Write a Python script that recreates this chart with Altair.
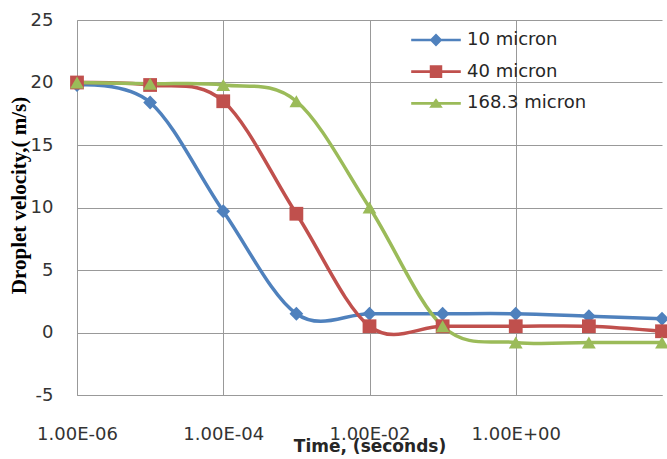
import altair as alt
import pandas as pd

# ---- data ----
times = [1e-6, 1e-5, 1e-4, 1e-3, 1e-2, 1e-1, 1e0, 1e1, 1e2]
series_names = ["10 micron", "40 micron", "168.3 micron"]
v_10 = [19.8, 18.4, 9.7, 1.5, 1.5, 1.5, 1.5, 1.3, 1.1]
v_40 = [20.0, 19.8, 18.5, 9.5, 0.5, 0.5, 0.5, 0.5, 0.1]
v_168 = [20.0, 19.9, 19.8, 18.5, 10.0, 0.5, -0.8, -0.8, -0.8]

x_ticks = [1e-6, 1e-4, 1e-2, 1e0]
x_tick_labels = ["1.00E-06", "1.00E-04", "1.00E-02", "1.00E+00"]
y_ticks = [-5, 0, 5, 10, 15, 20, 25]

colors = ["#4F81BD", "#C0504D", "#9BBB59"]
shapes = ["diamond", "square", "triangle-up"]
# legend symbols: a line segment with the marker on top
legend_paths = [
    "M-3.1,-0.17H3.1V0.17H-3.1Z M0,-0.8L0.8,0L0,0.8L-0.8,0Z",
    "M-3.1,-0.17H3.1V0.17H-3.1Z M-0.78,-0.8H0.78V0.8H-0.78Z",
    "M-3.1,-0.17H3.1V0.17H-3.1Z M0,-0.65L0.85,0.55H-0.85Z",
]

rows = []
for name, vals in zip(series_names, [v_10, v_40, v_168]):
    for t, v in zip(times, vals):
        rows.append({"series": name, "time": t, "velocity": v})
df = pd.DataFrame(rows)

label_expr = "[" + ",".join("'%s'" % s for s in x_tick_labels) + "][round((log(datum.value)/LN10 + 6)/2)]"

TICK_FONT = "DejaVu Sans"

x_enc = alt.X(
    "time:Q",
    scale=alt.Scale(type="log", domain=[1e-6, 1e2], nice=False),
    axis=alt.Axis(
        values=x_ticks,
        labelExpr=label_expr,
        title="Time, (seconds)",
        ticks=False,
        labelPadding=30,
        labelFontSize=18,
        labelFont=TICK_FONT,
        labelColor="#333333",
        titleFont="DejaVu Sans",
        titleFontSize=17,
        titleFontWeight="bold",
        titleColor="#262626",
        titlePadding=-5,
        grid=True,
        gridColor="#999999",
        domainColor="#999999",
        labelFlush=False,
    ),
)
y_enc = alt.Y(
    "velocity:Q",
    scale=alt.Scale(domain=[-5, 25], nice=False, zero=False),
    axis=alt.Axis(
        values=y_ticks,
        labelExpr="datum.value + ''",
        title="Droplet velocity,( m/s)",
        ticks=False,
        labelPadding=24,
        labelFontSize=18,
        labelFont=TICK_FONT,
        labelColor="#333333",
        titleFont="Liberation Serif",
        titleFontSize=21,
        titleFontWeight="bold",
        titleColor="#000000",
        titlePadding=1,
        titleY=175,
        grid=True,
        gridColor="#999999",
        domainColor="#999999",
    ),
)

color_scale = alt.Scale(domain=series_names, range=colors)

lines = alt.Chart(df).mark_line(interpolate="cardinal", strokeWidth=3.5).encode(
    x=x_enc,
    y=y_enc,
    color=alt.Color("series:N", scale=color_scale, legend=None),
    detail="series:N",
)

points = alt.Chart(df).mark_point(filled=True, size=190, opacity=1).encode(
    x=x_enc,
    y=y_enc,
    color=alt.Color("series:N", scale=color_scale, legend=None),
    shape=alt.Shape("series:N", scale=alt.Scale(domain=series_names, range=shapes), legend=None),
)

legend_props = dict(
    title=None,
    orient="none",
    legendX=350,
    legendY=11,
    symbolSize=256,
    symbolStrokeWidth=0,
    labelOffset=22,
    labelFontSize=18,
    labelFont=TICK_FONT,
    labelColor="#262626",
    rowPadding=13.7,
    padding=0,
)

legend_layer = alt.Chart(df).transform_filter("false").mark_point(filled=True, size=256, opacity=1).encode(
    x=x_enc,
    y=y_enc,
    color=alt.Color("series:N", scale=alt.Scale(domain=series_names, range=colors), legend=alt.Legend(**legend_props)),
    shape=alt.Shape("series:N", scale=alt.Scale(domain=series_names, range=legend_paths), legend=alt.Legend(**legend_props)),
)

chart = (
    alt.layer(lines, points, legend_layer)
    .resolve_scale(shape="independent", color="independent")
    .properties(
        width=585,
        height=375,
        autosize=alt.AutoSizeParams(type="none"),
        padding={"left": 77, "top": 20, "right": 5, "bottom": 64},
        background="white",
    )
    .configure_view(stroke=None)
)

chart.save("out.html", embed_options={"renderer": "svg", "actions": False})
